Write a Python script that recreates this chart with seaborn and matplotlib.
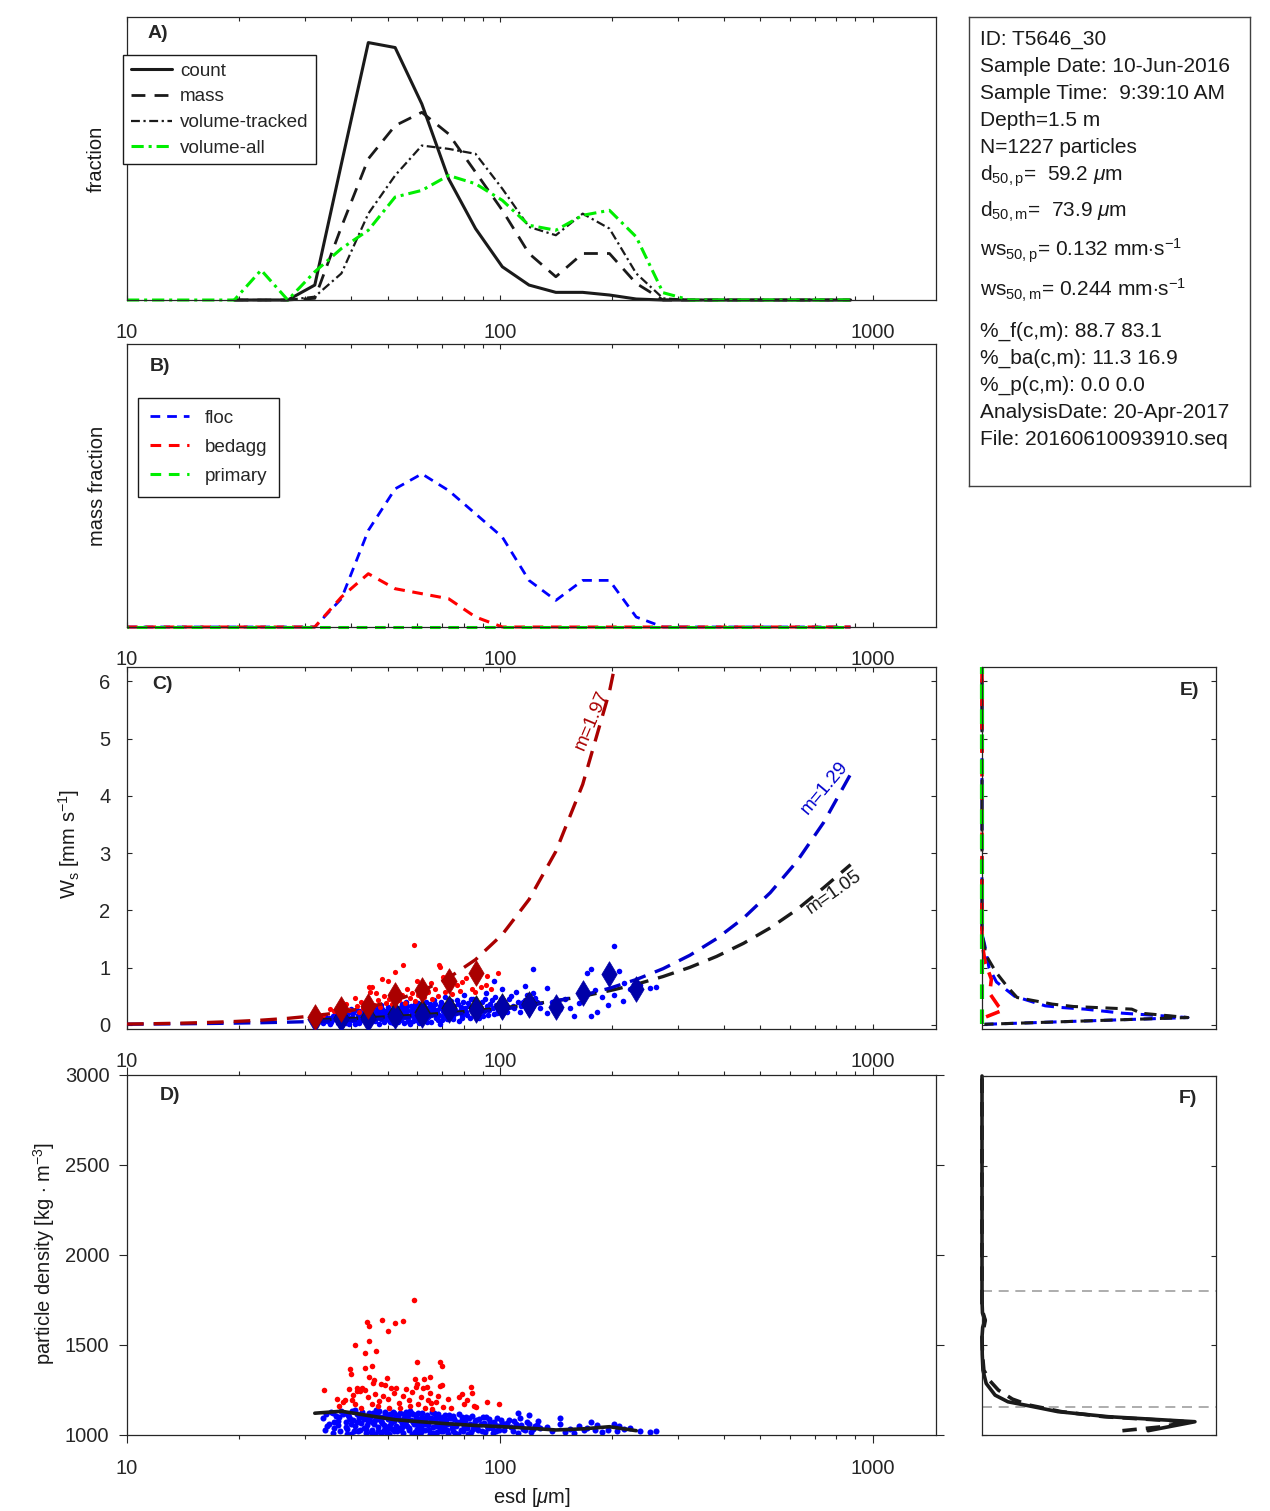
import numpy as np
import matplotlib.pyplot as plt
import matplotlib.ticker as mticker
import seaborn as sns

sns.set_theme(style='ticks')
plt.rcParams['font.family'] = ['Liberation Sans', 'DejaVu Sans']
plt.rcParams['mathtext.fontset'] = 'custom'
plt.rcParams['mathtext.rm'] = 'Liberation Sans'
plt.rcParams['mathtext.it'] = 'Liberation Sans:italic'
plt.rcParams['mathtext.bf'] = 'Liberation Sans:bold'
plt.rcParams['axes.edgecolor'] = '#262626'
plt.rcParams['axes.linewidth'] = 0.9

# ---------------- data ----------------
esd_bins = [10.0, 11.8, 13.9, 16.4, 19.4, 22.9, 27.0, 31.9, 37.6, 44.4, 52.4, 61.8, 72.9, 86.1,
            101.6, 119.8, 141.4, 166.9, 196.9, 232.3, 274.2, 323.5, 381.7, 450.5, 531.5, 627.2,
            740.1, 873.3]

# panel A (black curves start at 19.4 um)
frac_count = [0, 0, 0, 0.009, 0.082, 0.155, 0.152, 0.118, 0.073, 0.043, 0.020, 0.009, 0.0046,
              0.0046, 0.003, 0.0006, 0, 0, 0, 0, 0, 0, 0, 0]
frac_mass = [0, 0, 0, 0.001, 0.044, 0.085, 0.105, 0.113, 0.100, 0.077, 0.054, 0.028, 0.014,
             0.028, 0.028, 0.010, 0, 0, 0, 0, 0, 0, 0, 0]
frac_vtrk = [0, 0, 0, 0.002, 0.016, 0.052, 0.075, 0.093, 0.091, 0.088, 0.067, 0.044, 0.039,
             0.052, 0.043, 0.016, 0.001, 0, 0, 0, 0, 0, 0, 0]
frac_vall = [0, 0, 0, 0, 0, 0.018, 0, 0.017, 0.031, 0.042, 0.062, 0.066, 0.075, 0.070, 0.060,
             0.045, 0.042, 0.051, 0.054, 0.038, 0.0044, 0, 0, 0, 0, 0, 0, 0]

# panel B
mass_floc = [0, 0, 0, 0, 0, 0, 0, 0, 0.017, 0.058, 0.083, 0.092, 0.082, 0.068, 0.054, 0.028,
             0.016, 0.028, 0.028, 0.006, 0, 0, 0, 0, 0, 0, 0, 0]
mass_bedagg = [0, 0, 0, 0, 0, 0, 0, 0, 0.018, 0.032, 0.023, 0.020, 0.017, 0.006, 0, 0, 0, 0,
               0, 0, 0, 0, 0, 0, 0, 0, 0, 0]
mass_primary = [0] * 28

# panel C fitted curves (ws in mm/s at esd_bins)
fit_bedagg = [0.0164, 0.0228, 0.0314, 0.0436, 0.0606, 0.084, 0.116, 0.162, 0.223, 0.310,
              0.429, 0.594, 0.823, 1.141, 1.581, 2.19, 3.03, 4.20, 5.82, 8.07]
fit_floc = [0.0137, 0.0170, 0.0210, 0.0260, 0.0323, 0.0400, 0.0494, 0.0613, 0.0758, 0.0939,
            0.116, 0.144, 0.178, 0.220, 0.273, 0.338, 0.419, 0.518, 0.641, 0.794, 0.983,
            1.217, 1.507, 1.865, 2.309, 2.858, 3.54, 4.38]
fit_all = [0.0884, 0.105, 0.125, 0.149, 0.177, 0.210, 0.251, 0.298, 0.355, 0.422, 0.502,
           0.598, 0.710, 0.846, 1.006, 1.197, 1.425, 1.695, 2.016, 2.399, 2.80]  # from 31.9 um

# bin medians
med_ws_bedagg = [0.134, 0.28, 0.33, 0.52, 0.61, 0.76, 0.90]            # 31.9 .. 86.1
med_ws_floc = [0.10, 0.10, 0.10, 0.157, 0.17, 0.26, 0.26, 0.31, 0.35, 0.31, 0.56, 0.89, 0.62]
med_ws_all = [0.13, 0.14, 0.20, 0.22, 0.30, 0.30, 0.33, 0.37]           # 37.6 .. 119.8
med_rho = [1121, 1132, 1108, 1085, 1073, 1062, 1053, 1046, 1038, 1028, 1034, 1046, 1024]

# panel C particles (esd, ws)
floc_ws = [
    (33.5, .04), (34.2, .09), (34.8, .13), (35.3, .06), (35.9, .11), (36.4, .16), (36.8, .03),
    (37.2, .08), (37.5, .13), (33.9, .15), (35.0, .02), (36.1, .19),
    (38.3, .05), (38.6, .12), (39.0, .18), (39.4, .02), (39.8, .09), (40.2, .14), (40.5, .21),
    (40.9, .06), (41.3, .11), (41.7, .17), (42.0, .03), (42.4, .24), (42.8, .08), (43.1, .13),
    (43.5, .19), (43.9, .05), (44.2, .10), (44.6, .27), (38.9, .25), (40.0, .28), (41.0, .01),
    (42.2, .15), (43.3, .22), (44.0, .16), (39.2, .07),
    (45.0, .04), (45.3, .12), (45.7, .18), (46.1, .23), (46.4, .07), (46.8, .14), (47.1, .29),
    (47.5, .02), (47.9, .10), (48.2, .20), (48.6, .16), (49.0, .05), (49.3, .25), (49.7, .12),
    (50.1, .31), (50.5, .08), (50.8, .18), (51.2, .22), (51.6, .03), (52.0, .14), (52.4, .27),
    (52.8, .10), (45.5, .26), (46.6, .32), (48.0, .35), (49.5, .19), (50.9, .05), (52.1, .33),
    (47.3, .21), (48.9, .11),
    (53.2, .06), (53.6, .17), (54.1, .23), (54.5, .12), (55.0, .30), (55.4, .04), (55.9, .19),
    (56.3, .26), (56.8, .09), (57.2, .15), (57.7, .34), (58.1, .21), (58.6, .07), (59.0, .28),
    (59.5, .13), (60.0, .18), (60.4, .38), (60.9, .03), (61.3, .24), (61.8, .11), (54.8, .36),
    (56.0, .41), (57.5, .01), (59.8, .32), (61.0, .16),
    (62.4, .08), (63.0, .20), (63.6, .29), (64.3, .14), (64.9, .36), (65.5, .05), (66.1, .22),
    (66.8, .43), (67.4, .12), (68.0, .27), (68.7, .17), (69.3, .33), (70.0, .09), (70.6, .24),
    (71.3, .48), (72.0, .15), (72.6, .30), (63.3, .40), (65.9, .31), (69.0, .02),
    (73.5, .19), (74.3, .35), (75.1, .11), (76.0, .26), (76.8, .44), (77.6, .07), (78.5, .31),
    (79.4, .18), (80.3, .52), (81.2, .23), (82.1, .39), (83.0, .13), (84.0, .28), (85.0, .46),
    (85.8, .20),
    (87.0, .33), (88.2, .12), (89.4, .41), (90.6, .25), (91.9, .56), (93.1, .17), (94.4, .36),
    (95.7, .29), (97.0, .48), (98.4, .21), (99.8, .39), (101.2, .62),
    (103.5, .28), (105.8, .45), (108.2, .34), (110.7, .58), (113.0, .23), (115.6, .41),
    (118.3, .52), (121.0, .37), (124.5, .47), (128.0, .30), (117.0, .68), (123.0, .97),
    (96.7, .76),
    (134.0, .64), (134.0, .21), (138.5, .40), (145.0, .28), (150.0, .46), (154.0, .30),
    (158.0, .16), (163.0, .38), (171.0, .90), (176.0, .97), (176.0, .16), (180.0, .61),
    (182.0, .23), (188.0, .48), (195.0, .35), (202.0, 1.38), (202.0, .52), (209.0, .94),
    (216.0, .74), (223.0, .62), (238.0, .70), (253.0, .64), (262.0, .66), (214.0, .42),
    (38.0, .16), (38.7, .03), (39.6, .22), (40.7, .10), (41.5, .26), (42.6, .19), (43.7, .28),
    (44.4, .21), (45.2, .31), (45.9, .09), (46.3, .16), (47.0, .25), (47.7, .13), (48.4, .28),
    (49.2, .08), (49.9, .22), (50.3, .15), (51.0, .27), (51.4, .11), (51.9, .34), (52.6, .20),
    (53.0, .29), (53.9, .09), (54.3, .31), (55.2, .22), (55.7, .14), (56.5, .33), (57.0, .05),
    (57.9, .25), (58.4, .16), (59.2, .37), (59.7, .09), (60.2, .26), (60.7, .20), (61.5, .31),
    (62.0, .15), (62.7, .33), (63.9, .06), (64.6, .25), (65.2, .18), (66.4, .29), (67.1, .37),
    (67.7, .21), (68.4, .08), (69.0, .30), (69.7, .40), (70.3, .16), (71.0, .35), (71.7, .22),
    (72.3, .11), (73.0, .27), (74.0, .42), (74.8, .15), (75.6, .33), (76.4, .21), (77.2, .37),
    (78.0, .25), (79.0, .12), (79.8, .40), (80.8, .30), (81.7, .17), (82.6, .34), (83.5, .45),
    (84.5, .24), (86.4, .40), (87.6, .22), (88.8, .30), (90.0, .15), (91.2, .45), (92.5, .33),
    (93.8, .26), (95.1, .44), (96.3, .19), (97.7, .35), (99.0, .27), (100.5, .46),
    (102.5, .38), (104.6, .22), (107.0, .51), (109.5, .29), (111.8, .40), (114.3, .33),
    (116.9, .44), (119.6, .26), (122.5, .55), (126.0, .40), (36.0, .10), (37.0, .20),
    (34.5, .07), (35.7, .15)]

bedagg_ws = [
    (58.8, 1.40), (55.0, 1.05), (52.4, .93), (68.6, 1.05), (69.2, 1.01), (48.4, .81), (50.0, .77),
    (44.6, .67), (45.3, .66), (44.8, .58), (46.5, .55), (40.9, .47), (59.9, .76), (65.3, .73),
    (60.2, .53), (76.9, .70), (79.4, .75), (84.2, .62), (92.6, .85), (99.2, .91), (91.7, .70),
    (36.0, .24), (37.5, .30), (38.8, .36), (39.5, .27), (41.5, .33), (42.5, .41), (43.0, .30),
    (44.0, .38), (46.0, .35), (47.0, .44), (47.8, .31), (48.8, .50), (49.5, .38), (50.5, .46),
    (51.5, .36), (53.0, .60), (53.8, .44), (54.5, .52), (55.8, .39), (56.5, .63), (57.3, .47),
    (58.2, .55), (59.3, .42), (61.5, .66), (62.8, .48), (64.0, .58), (65.8, .45), (67.0, .62),
    (68.2, .51), (70.5, .84), (71.5, .57), (73.0, .66), (74.5, .54), (78.0, .60), (81.0, .82),
    (86.0, .57), (89.0, .66), (95.0, .63), (42.0, .22), (38.0, .20), (33.5, .18), (35.0, .28)]

# panel D particles (esd, density)
floc_rho = [
    (33.5, 1095), (34.2, 1118), (34.8, 1062), (35.3, 1128), (35.9, 1040), (36.4, 1105),
    (36.8, 1080), (37.2, 1022), (37.5, 1131), (34.0, 1030), (35.6, 1012), (36.9, 1054),
    (38.3, 1125), (38.6, 1070), (39.0, 1035), (39.4, 1100), (39.8, 1008), (40.2, 1132),
    (40.5, 1085), (40.9, 1050), (41.3, 1115), (41.7, 1020), (42.0, 1095), (42.4, 1066),
    (42.8, 1128), (43.1, 1040), (43.5, 1104), (43.9, 1010), (44.2, 1078), (44.6, 1120),
    (38.9, 1003), (40.0, 1060), (41.0, 1138), (42.2, 1029), (43.3, 1090), (44.0, 1055),
    (39.2, 1110),
    (45.0, 1098), (45.3, 1030), (45.7, 1125), (46.1, 1062), (46.4, 1005), (46.8, 1110),
    (47.1, 1045), (47.5, 1134), (47.9, 1080), (48.2, 1018), (48.6, 1100), (49.0, 1058),
    (49.3, 1123), (49.7, 1036), (50.1, 1088), (50.5, 1008), (50.8, 1115), (51.2, 1068),
    (51.6, 1130), (52.0, 1025), (52.4, 1095), (52.8, 1050), (45.5, 1072), (46.6, 1140),
    (48.0, 1002), (49.5, 1108), (50.9, 1040), (52.1, 1120), (47.3, 1090), (48.9, 1027),
    (53.2, 1105), (53.6, 1040), (54.1, 1122), (54.5, 1068), (55.0, 1012), (55.4, 1092),
    (55.9, 1130), (56.3, 1050), (56.8, 1110), (57.2, 1028), (57.7, 1082), (58.1, 1006),
    (58.6, 1118), (59.0, 1060), (59.5, 1096), (60.0, 1035), (60.4, 1125), (60.9, 1072),
    (61.3, 1015), (61.8, 1100), (54.8, 1045), (56.0, 1078), (57.5, 1135), (59.8, 1003),
    (61.0, 1055),
    (62.4, 1088), (63.0, 1030), (63.6, 1112), (64.3, 1058), (64.9, 1008), (65.5, 1095),
    (66.1, 1042), (66.8, 1120), (67.4, 1070), (68.0, 1018), (68.7, 1102), (69.3, 1050),
    (70.0, 1085), (70.6, 1025), (71.3, 1110), (72.0, 1062), (72.6, 1005), (63.3, 1075),
    (65.9, 1128), (69.0, 1038),
    (73.5, 1092), (74.3, 1040), (75.1, 1105), (76.0, 1012), (76.8, 1070), (77.6, 1115),
    (78.5, 1030), (79.4, 1085), (80.3, 1050), (81.2, 1098), (82.1, 1008), (83.0, 1062),
    (84.0, 1108), (85.0, 1035), (85.8, 1078),
    (87.0, 1045), (88.2, 1090), (89.4, 1020), (90.6, 1068), (91.9, 1102), (93.1, 1038),
    (94.4, 1075), (95.7, 1010), (97.0, 1058), (98.4, 1095), (99.8, 1030), (101.2, 1066),
    (103.5, 1048), (105.8, 1085), (108.2, 1022), (110.7, 1060), (113.0, 1092), (115.6, 1035),
    (118.3, 1070), (121.0, 1015), (124.5, 1052), (128.0, 1040), (112.0, 1120), (120.0, 1110),
    (127.0, 1080),
    (134.0, 1045), (138.5, 1025), (145.0, 1060), (150.0, 1018), (154.0, 1035), (158.0, 1012),
    (163.0, 1050), (171.0, 1040), (176.0, 1075), (180.0, 1028), (182.0, 1055), (188.0, 1015),
    (195.0, 1030), (202.0, 1062), (206.0, 1022), (209.0, 1048), (216.0, 1035), (223.0, 1040),
    (238.0, 1025), (253.0, 1018), (262.0, 1020), (145.0, 1095), (168.0, 1030),
    (38.0, 1118), (38.7, 1045), (39.6, 1090), (40.7, 1025), (41.5, 1070), (42.6, 1112),
    (43.7, 1033), (44.4, 1098), (45.2, 1015), (45.9, 1118), (46.3, 1085), (47.0, 1022),
    (47.7, 1102), (48.4, 1066), (49.2, 1130), (49.9, 1012), (50.3, 1050), (51.0, 1095),
    (51.4, 1032), (51.9, 1076), (52.6, 1110), (53.0, 1020), (53.9, 1085), (54.3, 1030),
    (55.2, 1115), (55.7, 1062), (56.5, 1098), (57.0, 1040), (57.9, 1122), (58.4, 1075),
    (59.2, 1018), (59.7, 1110), (60.2, 1058), (60.7, 1090), (61.5, 1040), (62.0, 1120),
    (62.7, 1062), (63.9, 1098), (64.6, 1030), (65.2, 1080), (66.4, 1010), (67.1, 1092),
    (67.7, 1048), (68.4, 1115), (69.0, 1072), (69.7, 1020), (70.3, 1098), (71.0, 1045),
    (71.7, 1082), (72.3, 1030), (73.0, 1110), (74.0, 1060), (74.8, 1022), (75.6, 1088),
    (76.4, 1048), (77.2, 1008), (78.0, 1070), (79.0, 1100), (79.8, 1025), (80.8, 1078),
    (81.7, 1040), (82.6, 1092), (83.5, 1015), (84.5, 1055), (86.4, 1082), (87.6, 1030),
    (88.8, 1060), (90.0, 1098), (91.2, 1015), (92.5, 1052), (93.8, 1088), (95.1, 1040),
    (96.3, 1075), (97.7, 1022), (99.0, 1050), (100.5, 1085), (102.5, 1030), (104.6, 1065),
    (107.0, 1042), (109.5, 1080), (111.8, 1012), (114.3, 1055), (116.9, 1028), (119.6, 1062),
    (122.5, 1035), (126.0, 1058), (36.0, 1070), (37.0, 1100), (34.5, 1050), (35.7, 1125)]

bedagg_rho = [
    (33.8, 1250), (58.9, 1750), (44.1, 1626), (44.7, 1606), (48.2, 1639), (52.3, 1620),
    (55.1, 1635), (50.1, 1578), (40.9, 1500), (44.7, 1522), (43.5, 1454), (46.6, 1467),
    (45.3, 1383), (43.4, 1372), (39.7, 1366), (40.0, 1340), (59.8, 1407), (69.2, 1407),
    (69.8, 1385), (44.5, 1320), (46.0, 1306), (45.8, 1291), (49.9, 1315), (51.0, 1259),
    (39.3, 1258), (41.3, 1262), (42.6, 1262), (43.4, 1250), (42.2, 1247), (41.3, 1243),
    (40.3, 1222), (40.1, 1194), (41.0, 1175), (48.0, 1285), (49.1, 1278), (56.2, 1254),
    (59.4, 1311), (62.6, 1311), (65.1, 1324), (59.9, 1283), (59.6, 1268), (62.4, 1259),
    (63.7, 1268), (69.2, 1272), (70.2, 1278), (65.1, 1231), (68.2, 1217), (67.3, 1183),
    (65.5, 1180), (72.6, 1200), (77.6, 1213), (79.3, 1227), (81.8, 1194), (83.5, 1268),
    (84.4, 1233), (80.4, 1170), (85.2, 1161), (86.5, 1158), (92.5, 1185), (99.5, 1172),
    (36.7, 1198), (37.0, 1161), (38.0, 1183), (38.5, 1194), (44.2, 1210), (46.2, 1228),
    (47.5, 1190), (48.5, 1215), (50.2, 1200), (52.0, 1232), (53.5, 1178), (55.0, 1215),
    (57.0, 1195), (58.0, 1240), (47.0, 1160), (50.5, 1152), (54.0, 1150), (57.5, 1160),
    (60.5, 1170), (63.0, 1152), (66.0, 1145), (70.5, 1155), (74.0, 1148), (42.5, 1150),
    (45.5, 1170), (52.8, 1262), (61.5, 1210), (64.2, 1196)]

# panel E: distributions over settling velocity
floc_E_ws = [0.012, 0.13, 0.206, 0.277, 0.305, 0.335, 0.50, 0.75, 1.0, 1.39, 1.6, 6.25]
floc_E = [0.012, 0.88, 0.60, 0.44, 0.34, 0.27, 0.14, 0.062, 0.03, 0.012, 0.0, 0.0]
mass_E_ws = [0.012, 0.13, 0.206, 0.277, 0.323, 0.365, 0.48, 0.66, 0.92, 1.22, 1.6, 6.25]
mass_E = [0.01, 0.88, 0.68, 0.64, 0.39, 0.30, 0.15, 0.11, 0.06, 0.017, 0.0, 0.0]
bedagg_E_ws = [0.012, 0.13, 0.26, 0.33, 0.55, 0.8, 1.1, 1.45, 6.25]
bedagg_E = [0.0, 0.01, 0.09, 0.07, 0.033, 0.04, 0.013, 0.0, 0.0]
primary_E_ws = [0.012, 6.25]
primary_E = [0.0, 0.0]

# panel F: distributions over density
count_F_rho = [1024, 1074, 1102, 1130, 1167, 1185, 1222, 1287, 1361, 1450, 1544, 1600, 1639,
               1680, 1750, 2000, 2500, 3000]
count_F = [0.71, 0.91, 0.54, 0.325, 0.183, 0.111, 0.056, 0.018, 0.004, 0.001, 0.0, 0.003,
           0.012, 0.002, 0.0, 0.0, 0.0, 0.0]
mass_F_rho = [1024, 1046, 1074, 1102, 1130, 1167, 1200, 1250, 1300, 1361, 1450, 1544, 1639,
              1700, 3000]
mass_F = [0.60, 0.77, 0.88, 0.52, 0.34, 0.20, 0.13, 0.07, 0.035, 0.008, 0.002, 0.0, 0.014,
          0.0, 0.0]
ref_rho = [1800, 1155]

info_lines = [
    'ID: T5646_30',
    'Sample Date: 10-Jun-2016',
    'Sample Time:  9:39:10 AM',
    'Depth=1.5 m',
    'N=1227 particles',
    r'd$_{\mathrm{50,p}}$=  59.2 $\mu$m',
    r'd$_{\mathrm{50,m}}$=  73.9 $\mu$m',
    r'ws$_{\mathrm{50,p}}$= 0.132 mm$\cdot$s$^{\mathrm{-1}}$',
    r'ws$_{\mathrm{50,m}}$= 0.244 mm$\cdot$s$^{\mathrm{-1}}$',
    '%_f(c,m): 88.7 83.1',
    '%_ba(c,m): 11.3 16.9',
    '%_p(c,m): 0.0 0.0',
    'AnalysisDate: 20-Apr-2017',
    'File: 20160610093910.seq',
]
info_y = [0.940, 0.883, 0.825, 0.768, 0.710, 0.652, 0.575, 0.490, 0.403, 0.318, 0.260,
          0.203, 0.145, 0.088]

# ---------------- styling helpers ----------------
TC = '#262626'
GREEN = '#00ee00'
DRED = '#aa0000'
FBLUE = '#0000cd'
DBLUE = '#0000a8'
FS = 14.5


def setup_logx(ax, direction='in', pad=16.5, label=True):
    ax.set_xscale('log')
    ax.set_xlim(10, 1480)
    ax.xaxis.set_major_locator(mticker.FixedLocator([10, 100, 1000]))
    ax.xaxis.set_major_formatter(mticker.FixedFormatter(['10', '100', '1000']))
    ax.xaxis.set_minor_locator(mticker.LogLocator(base=10, subs=np.arange(2, 10), numticks=20))
    ax.xaxis.set_minor_formatter(mticker.NullFormatter())
    big = 6 if direction == 'out' else 3.5
    ax.tick_params(axis='x', which='both', direction=direction, top=True, bottom=True,
                   labelsize=FS, pad=pad, colors=TC, labelbottom=label)
    ax.tick_params(axis='x', which='major', length=big, width=0.8)
    ax.tick_params(axis='x', which='minor', length=3, width=0.8)


def line(ax, x, y, **kw):
    sns.lineplot(x=x, y=y, ax=ax, estimator=None, sort=False, **kw)


fig = plt.figure(figsize=(12.7, 15.11), dpi=100)
W, H = 1270.0, 1511.0


def box(l, t, r, b):
    return [l / W, 1 - b / H, (r - l) / W, (b - t) / H]


axA = fig.add_axes(box(127, 17, 936, 300))
axB = fig.add_axes(box(127, 344, 936, 627))
axC = fig.add_axes(box(127, 667, 936, 1029))
axD = fig.add_axes(box(127, 1075, 936, 1435))
axE = fig.add_axes(box(982, 667, 1216, 1029))
axF = fig.add_axes(box(982, 1076, 1216, 1435))
axT = fig.add_axes(box(969, 17, 1250, 486))

# ---------------- A ----------------
dash_m = (0, (5, 3.3))
dashdot = (0, (4, 1.6, 1, 1.6))
line(axA, esd_bins[4:], frac_count, color='k', lw=2.2, label='count', clip_on=False)
line(axA, esd_bins[4:], frac_mass, color='k', lw=2.0, linestyle=dash_m, label='mass',
     clip_on=False)
line(axA, esd_bins[4:], frac_vtrk, color='k', lw=1.6, linestyle=dashdot,
     label='volume-tracked', clip_on=False)
line(axA, esd_bins, frac_vall, color=GREEN, lw=2.2, linestyle=dashdot, label='volume-all',
     clip_on=False)
setup_logx(axA)
axA.set_ylim(0, 0.1704)
axA.set_yticks([])
axA.set_ylabel('fraction', fontsize=FS, color='k')
axA.yaxis.set_label_coords(-0.026, 0.5)
legA = axA.legend(loc='upper left', bbox_to_anchor=(-0.005, 0.866), borderaxespad=0,
                  fontsize=13.6, frameon=True, fancybox=False, framealpha=1, edgecolor='k',
                  handlelength=2.2, handletextpad=0.42, labelspacing=0.45, borderpad=0.4)
legA.get_frame().set_linewidth(1.0)
axA.text(0.025, 0.943, 'A)', transform=axA.transAxes, fontsize=14, fontweight='bold',
         va='center', ha='left')

# ---------------- B ----------------
dash_b = (0, (3.5, 2.5))
line(axB, esd_bins, mass_floc, color='#0000ff', lw=2.0, linestyle=dash_b, label='floc',
     clip_on=False)
line(axB, esd_bins, mass_bedagg, color='#ff0000', lw=2.2, linestyle=dash_b, label='bedagg',
     clip_on=False)
line(axB, esd_bins, mass_primary, color=GREEN, lw=2.2, linestyle=(3, (3.5, 2.5)),
     label='primary', clip_on=False)
setup_logx(axB)
axB.set_ylim(0, 0.17)
axB.set_yticks([])
axB.set_ylabel('mass fraction', fontsize=FS, color='k')
axB.yaxis.set_label_coords(-0.025, 0.5)
legB = axB.legend(loc='upper left', bbox_to_anchor=(0.0136, 0.809), borderaxespad=0,
                  fontsize=13.6, frameon=True, fancybox=False, framealpha=1, edgecolor='k',
                  handlelength=2.1, handletextpad=0.8, labelspacing=0.62, borderpad=0.62)
legB.get_frame().set_linewidth(1.0)
for h in legB.get_lines():
    h.set_linestyle((0, (3.5, 2.5)))
axB.text(0.028, 0.922, 'B)', transform=axB.transAxes, fontsize=14, fontweight='bold',
         va='center', ha='left')

# ---------------- C ----------------
fx, fy = zip(*floc_ws)
bx, by = zip(*bedagg_ws)
sns.scatterplot(x=list(fx), y=list(fy), ax=axC, color='#0000ff', s=16, linewidth=0,
                legend=False, zorder=2)
sns.scatterplot(x=list(bx), y=list(by), ax=axC, color='#ff0000', s=14, linewidth=0,
                legend=False, zorder=2)
dash_c = (0, (5, 3))
line(axC, esd_bins[7:], fit_all, color='k', lw=2.4, linestyle=dash_c, zorder=3)
line(axC, esd_bins, fit_floc, color=FBLUE, lw=2.4, linestyle=dash_c, zorder=3)
line(axC, esd_bins[:len(fit_bedagg)], fit_bedagg, color=DRED, lw=2.4, linestyle=dash_c,
     zorder=3)
sns.scatterplot(x=esd_bins[8:16], y=med_ws_all, ax=axC, marker='d', s=170, color='k',
                edgecolor='k', linewidth=0.5, legend=False, zorder=4)
sns.scatterplot(x=esd_bins[7:20], y=med_ws_floc, ax=axC, marker='d', s=170, color=DBLUE,
                edgecolor=DBLUE, linewidth=0.5, legend=False, zorder=4)
sns.scatterplot(x=esd_bins[7:14], y=med_ws_bedagg, ax=axC, marker='d', s=170, color=DRED,
                edgecolor=DRED, linewidth=0.5, legend=False, zorder=4)
setup_logx(axC)
axC.set_ylim(-0.07, 6.25)
axC.set_yticks(range(0, 7))
axC.tick_params(axis='y', direction='in', left=True, right=True, length=3.5, width=0.8,
                labelsize=FS, pad=12, colors=TC)
axC.set_ylabel(r'W$_{\mathrm{s}}$ [mm s$^{\mathrm{-1}}$]', fontsize=FS, color='k')
axC.yaxis.set_label_coords(-0.056, 0.51)
axC.text(177, 5.33, 'm=1.97', color=DRED, fontsize=13.6, rotation=67, ha='center',
         va='center', rotation_mode='anchor')
axC.text(745, 4.14, 'm=1.29', color=FBLUE, fontsize=13.6, rotation=50, ha='center',
         va='center', rotation_mode='anchor')
axC.text(787, 2.32, 'm=1.05', color='k', fontsize=13.6, rotation=35, ha='center',
         va='center', rotation_mode='anchor')
axC.text(0.031, 0.953, 'C)', transform=axC.transAxes, fontsize=14, fontweight='bold',
         va='center', ha='left')

# ---------------- D ----------------
dx, dy = zip(*floc_rho)
rx, ry = zip(*bedagg_rho)
sns.scatterplot(x=list(dx), y=list(dy), ax=axD, color='#0000ff', s=19, linewidth=0,
                legend=False, zorder=2)
sns.scatterplot(x=list(rx), y=list(ry), ax=axD, color='#ff0000', s=16, linewidth=0,
                legend=False, zorder=2)
line(axD, esd_bins[7:20], med_rho, color='k', lw=2.6, zorder=3)
setup_logx(axD, direction='out', pad=11.3)
axD.set_ylim(1000, 3000)
axD.set_yticks([1000, 1500, 2000, 2500, 3000])
axD.tick_params(axis='y', direction='out', left=True, right=True, length=6, width=0.8,
                labelsize=FS, pad=6.7, colors=TC)
axD.set_ylabel(r'particle density [kg $\cdot$ m$^{\mathrm{-3}}$]', fontsize=FS, color='k')
axD.yaxis.set_label_coords(-0.086, 0.505)
axD.set_xlabel(r'esd [$\mu$m]', fontsize=FS, color='k')
axD.xaxis.set_label_coords(0.5, -0.142)
axD.text(0.041, 0.944, 'D)', transform=axD.transAxes, fontsize=14, fontweight='bold',
         va='center', ha='left')

# ---------------- E ----------------
dash_e = (0, (4, 2.5))
line(axE, floc_E, floc_E_ws, color='#0000ff', lw=2.2, linestyle=dash_e, clip_on=False)
line(axE, mass_E, mass_E_ws, color='k', lw=2.2, linestyle=(1, (4, 2.5)), clip_on=False)
line(axE, bedagg_E, bedagg_E_ws, color='#ff0000', lw=2.6, linestyle=(4, (4, 2.5)),
     clip_on=False)
line(axE, primary_E, primary_E_ws, color=GREEN, lw=3.0, linestyle=(0, (3.5, 2.5)),
     clip_on=False)
axE.set_xlim(0, 1)
axE.set_ylim(-0.07, 6.25)
axE.set_xticks([])
axE.set_yticks(range(0, 7))
axE.tick_params(axis='y', direction='in', left=True, right=True, length=3.5, width=0.8,
                labelleft=False, colors=TC)
axE.set_ylabel('')
axE.text(0.93, 0.936, 'E)', transform=axE.transAxes, fontsize=14, fontweight='bold',
         va='center', ha='right')

# ---------------- F ----------------
line(axF, count_F, count_F_rho, color='k', lw=2.6, clip_on=False)
line(axF, mass_F, mass_F_rho, color='k', lw=2.6, linestyle=(0, (4, 2.5)), clip_on=False)
for r in ref_rho:
    axF.axhline(r, color='#a0a0a0', lw=1.2, linestyle=(0, (6, 4)), zorder=1)
axF.set_xlim(0, 1)
axF.set_ylim(1000, 3000)
axF.set_xticks([])
axF.set_yticks([1000, 1500, 2000, 2500, 3000])
axF.tick_params(axis='y', direction='in', left=True, right=True, length=3.5, width=0.8,
                labelleft=False, colors=TC)
axF.set_ylabel('')
axF.text(0.92, 0.936, 'F)', transform=axF.transAxes, fontsize=14, fontweight='bold',
         va='center', ha='right')

for ax in (axC, axD, axE, axF):
    if ax.get_legend() is not None:
        ax.get_legend().remove()
for ax in (axA, axB, axC, axE, axF):
    ax.set_xlabel('')

# ---------------- info box ----------------
axT.set_xticks([])
axT.set_yticks([])
for s in axT.spines.values():
    s.set_color('#404040')
    s.set_linewidth(1.0)
for txt, yy in zip(info_lines, info_y):
    axT.text(0.039, yy, txt, transform=axT.transAxes, fontsize=15, color='k',
             va='baseline', ha='left')

fig.savefig('out.png', dpi=100)
